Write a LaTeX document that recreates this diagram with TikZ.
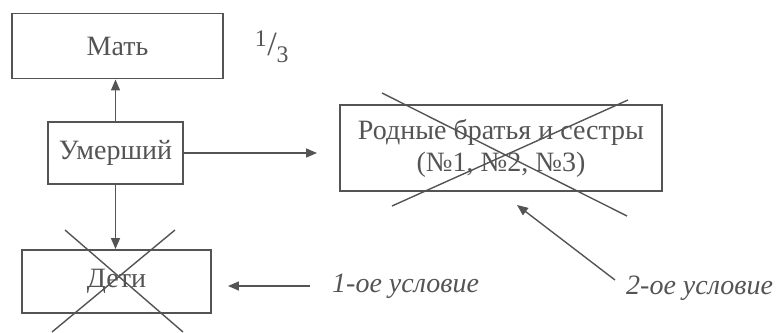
\documentclass[tikz,border=0pt]{standalone}
\usepackage{fontspec}
\setmainfont{Liberation Serif}
\usetikzlibrary{arrows.meta}
\definecolor{ink}{gray}{0.33}
\tikzset{
  box/.style={draw=ink, line width=1.9pt, text=ink, inner sep=0pt,
    font=\fontsize{28}{32}\selectfont, align=center},
  note/.style={text=ink, inner sep=0pt, anchor=west,
    font=\fontsize{28}{32}\selectfont\itshape},
  arr/.style={draw=ink, line width=1.4pt, -{Triangle[length=11pt,width=9pt]}},
  cross/.style={draw=ink, line width=1.4pt}
}
\begin{document}
\begin{tikzpicture}[x=1pt, y=-1pt]
  \useasboundingbox (0,0) rectangle (776,332);
  % boxes
  \node[box, minimum width=211pt, minimum height=65pt] (mat) at (117.5,46) {Мать};
  \node[box, minimum width=135pt, minimum height=62pt] (umer) at (115.5,153) {Умерший};
  \node[box, minimum width=189pt, minimum height=63pt] (deti) at (116.5,281.5) {Дети};
  \node[box, minimum width=322pt, minimum height=86pt] (rod) at (501,148)
    {Родные братья и сестры\\(№1, №2, №3)};
  \node[text=ink, inner sep=0pt, font=\fontsize{34}{38}\selectfont] (share) at (272,47)
    {\textsuperscript{1}/\textsubscript{3}};
  % notes
  \node[note] (usl1) at (332,286) {1-ое условие};
  \node[note] (usl2) at (626,288) {2-ое условие};
  \coordinate (usl2from) at (615,280);
  \coordinate (usl2to) at (517,205);
  % arrows
  \draw[arr] (umer.north) -- (umer.north |- mat.south);
  \draw[arr] (umer.south) -- (umer.south |- deti.north);
  \draw[arr, shorten >=22pt] (umer.east) -- (rod.west |- umer.east);
  \draw[arr, shorten <=22pt, shorten >=16pt] (usl1.west) -- (deti.east |- usl1.west);
  \draw[arr] (usl2from) -- (usl2to);
  % crossed out
  \draw[cross] (65,230) -- (183,332);
  \draw[cross] (175,230) -- (52,332);
  \draw[cross] (382,93) -- (627,216);
  \draw[cross] (628,100) -- (392,206);
\end{tikzpicture}
\end{document}
